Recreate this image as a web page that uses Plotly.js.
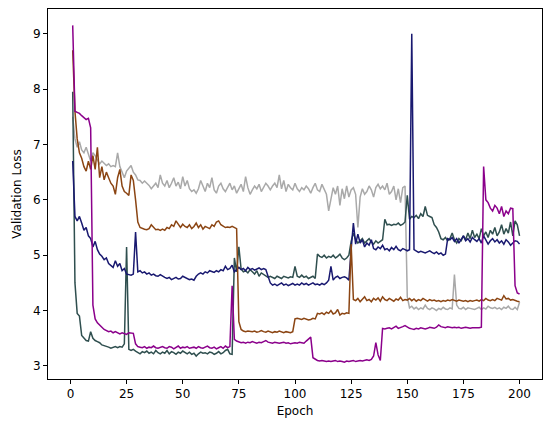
<!DOCTYPE html>
<html>
<head>
<meta charset="utf-8">
<script src="https://cdn.plot.ly/plotly-3.0.1.min.js"></script>
<style>
  html, body { margin: 0; padding: 0; background: #fff; }
  #myDiv { width: 554px; height: 432px; }
</style>
</head>
<body>
<div id="myDiv"></div>
<script>
// epochs 1..200
var epochs = [];
for (var e = 1; e <= 200; e++) epochs.push(e);

var loss_purple = [
  9.15, 7.60, 7.58, 7.56, 7.52, 7.48, 7.45, 7.47, 7.30, 4.10,
  3.85, 3.78, 3.73, 3.70, 3.66, 3.64, 3.62, 3.63, 3.60, 3.62,
  3.60, 3.58, 3.60, 3.58, 3.57, 3.60, 3.60, 3.59, 3.40, 3.35,
  3.34, 3.33, 3.35, 3.32, 3.34, 3.33, 3.36, 3.33, 3.32, 3.34,
  3.35, 3.33, 3.32, 3.35, 3.34, 3.31, 3.33, 3.36, 3.32, 3.34,
  3.33, 3.35, 3.32, 3.33, 3.34, 3.32, 3.35, 3.33, 3.32, 3.34,
  3.36, 3.33, 3.32, 3.34, 3.31, 3.33, 3.35, 3.32, 3.36, 3.33,
  3.35, 4.45, 3.48, 3.45, 3.44, 3.42, 3.43, 3.41, 3.43, 3.42,
  3.44, 3.42, 3.41, 3.43, 3.42, 3.44, 3.46, 3.43, 3.42, 3.41,
  3.43, 3.42, 3.41, 3.42, 3.43, 3.41, 3.42, 3.40, 3.41, 3.42,
  3.41, 3.43, 3.42, 3.41, 3.45, 3.48, 3.52, 3.15, 3.12, 3.10,
  3.09, 3.10, 3.09, 3.08, 3.09, 3.08, 3.09, 3.10, 3.08, 3.09,
  3.08, 3.07, 3.09, 3.08, 3.09, 3.10, 3.08, 3.09, 3.10, 3.09,
  3.10, 3.11, 3.10, 3.12, 3.18, 3.42, 3.20, 3.10, 3.68, 3.67,
  3.68, 3.69, 3.67, 3.70, 3.72, 3.68, 3.69, 3.71, 3.73, 3.70,
  3.68, 3.67, 3.66, 3.68, 3.67, 3.69, 3.68, 3.67, 3.68, 3.70,
  3.69, 3.68, 3.70, 3.74, 3.71, 3.70, 3.69, 3.71, 3.70, 3.69,
  3.70, 3.69, 3.70, 3.68, 3.69, 3.70, 3.69, 3.68, 3.69, 3.69,
  3.68, 3.69, 3.70, 6.60, 6.00, 5.95, 5.85, 5.80, 5.90, 5.85,
  5.75, 5.88, 5.70, 5.80, 5.75, 5.85, 5.84, 4.45, 4.32, 4.30
];

var loss_brown = [
  8.70, 7.60, 7.10, 6.85, 6.75, 6.60, 6.52, 6.70, 6.55, 6.80,
  6.55, 6.95, 6.40, 6.60, 6.36, 6.50, 6.40, 6.30, 6.25, 6.10,
  6.40, 6.55, 6.25, 6.15, 6.12, 6.08, 6.45, 6.35, 6.00, 5.60,
  5.50, 5.48, 5.47, 5.46, 5.48, 5.55, 5.50, 5.46, 5.47, 5.45,
  5.47, 5.45, 5.50, 5.48, 5.55, 5.52, 5.62, 5.55, 5.50, 5.56,
  5.52, 5.50, 5.55, 5.48, 5.52, 5.58, 5.50, 5.55, 5.47, 5.52,
  5.50, 5.48, 5.55, 5.52, 5.60, 5.62, 5.55, 5.52, 5.50, 5.51,
  5.50, 5.52, 5.50, 5.48, 3.80, 3.66, 3.63, 3.62, 3.63, 3.62,
  3.62, 3.63, 3.61, 3.62, 3.64, 3.62, 3.61, 3.63, 3.62, 3.60,
  3.62, 3.61, 3.63, 3.62, 3.60, 3.62, 3.61, 3.60, 3.62, 3.85,
  3.86, 3.85, 3.84, 3.86, 3.85, 3.83, 3.84, 3.86, 3.85, 3.95,
  3.94, 3.96, 3.93, 3.97, 3.95, 4.00, 3.94, 3.96, 4.02, 3.92,
  3.95, 3.94, 3.96, 3.95, 5.20, 4.20, 4.18, 4.22, 4.16, 4.20,
  4.25, 4.18, 4.20, 4.16, 4.22, 4.19, 4.23, 4.17, 4.25, 4.20,
  4.18, 4.22, 4.20, 4.17, 4.21, 4.19, 4.24, 4.18, 4.20, 4.19,
  4.22, 4.18, 4.21, 4.17, 4.20, 4.18, 4.22, 4.19, 4.17, 4.20,
  4.18, 4.19, 4.17, 4.18, 4.16, 4.18, 4.17, 4.19, 4.18, 4.20,
  4.18, 4.17, 4.19, 4.18, 4.17, 4.18, 4.16, 4.18, 4.17, 4.18,
  4.19, 4.17, 4.20, 4.18, 4.22, 4.19, 4.18, 4.20, 4.18, 4.22,
  4.20, 4.19, 4.27, 4.21, 4.22, 4.19, 4.20, 4.18, 4.17, 4.16
];

var loss_navy = [
  6.70, 5.70, 5.62, 5.70, 5.58, 5.45, 5.50, 5.35, 5.30, 5.15,
  5.25, 5.10, 5.02, 4.98, 4.92, 4.95, 4.85, 4.82, 4.78, 4.90,
  4.80, 4.85, 4.72, 4.76, 4.66, 4.65, 4.64, 4.66, 5.42, 4.70,
  4.72, 4.68, 4.70, 4.66, 4.68, 4.64, 4.66, 4.63, 4.62, 4.65,
  4.62, 4.60, 4.58, 4.60, 4.56, 4.58, 4.60, 4.57, 4.58, 4.62,
  4.60, 4.58, 4.56, 4.57, 4.55, 4.62, 4.66, 4.68, 4.66, 4.70,
  4.68, 4.72, 4.70, 4.69, 4.72, 4.70, 4.74, 4.72, 4.80, 4.74,
  4.76, 4.82, 4.70, 4.75, 4.78, 4.74, 4.76, 4.72, 4.78, 4.74,
  4.76, 4.73, 4.75, 4.77, 4.74, 4.76, 4.74, 4.60, 4.50, 4.46,
  4.48, 4.45, 4.47, 4.50, 4.46, 4.48, 4.45, 4.47, 4.49, 4.46,
  4.48, 4.46, 4.50, 4.47, 4.49, 4.46, 4.48, 4.50, 4.47, 4.48,
  4.46, 4.49, 4.47, 4.50, 4.55, 4.80, 4.55, 4.60, 4.62, 4.58,
  4.60, 4.61, 4.59, 4.55, 5.10, 5.58, 5.20, 5.38, 5.22, 5.28,
  5.15, 5.22, 5.18, 5.28, 5.12, 5.10, 5.15, 5.12, 5.18, 5.10,
  5.12, 5.08, 5.14, 5.10, 5.16, 5.10, 5.08, 5.12, 5.10, 5.08,
  5.10, 9.00, 5.10, 5.08, 5.05, 5.07, 5.05, 5.04, 5.06, 5.08,
  5.05, 5.03, 5.06, 5.02, 5.04, 5.00, 5.02, 5.30, 5.28, 5.32,
  5.25, 5.30, 5.22, 5.28, 5.35, 5.26, 5.30, 5.24, 5.32, 5.28,
  5.25, 5.30, 5.22, 5.35, 5.28, 5.20, 5.26, 5.30, 5.24, 5.28,
  5.22, 5.26, 5.20, 5.28, 5.24, 5.18, 5.22, 5.26, 5.25, 5.20
];

var loss_slate = [
  7.95, 4.50, 3.95, 3.90, 3.55, 3.50, 3.46, 3.45, 3.62, 3.50,
  3.46, 3.44, 3.42, 3.38, 3.37, 3.36, 3.34, 3.32, 3.33, 3.35,
  3.33, 3.35, 3.34, 3.40, 5.15, 3.30, 3.28, 3.30, 3.27, 3.25,
  3.22, 3.26, 3.24, 3.27, 3.23, 3.25, 3.22, 3.28, 3.24, 3.22,
  3.25, 3.23, 3.28, 3.22, 3.26, 3.24, 3.21, 3.25, 3.23, 3.27,
  3.24, 3.22, 3.25, 3.21, 3.23, 3.18, 3.22, 3.25, 3.23, 3.24,
  3.22, 3.25, 3.24, 3.21, 3.23, 3.26, 3.22, 3.24, 3.28, 3.30,
  3.22, 3.21, 4.95, 4.70, 5.15, 4.75, 4.70, 4.72, 4.68, 4.74,
  4.70, 4.66, 4.72, 4.62, 4.68, 4.65, 4.62, 4.60, 4.62, 4.60,
  4.58, 4.62, 4.60, 4.58, 4.62, 4.60, 4.59, 4.61, 4.60, 4.80,
  4.62, 4.60, 4.64, 4.60, 4.62, 4.58, 4.60, 4.62, 4.58, 5.02,
  4.98, 4.96, 5.00, 4.95, 4.98, 4.96, 5.00, 4.95, 4.98, 5.02,
  4.95, 4.92, 4.95, 5.00, 5.25, 5.40, 5.28, 5.22, 5.26, 5.30,
  5.22, 5.26, 5.30, 5.24, 5.20, 5.26, 5.22, 5.25, 5.28, 5.65,
  5.55, 5.56, 5.54, 5.56, 5.55, 5.58, 5.54, 5.56, 5.60, 6.08,
  5.65, 5.70, 5.68, 5.72, 5.66, 5.75, 5.70, 5.88, 5.72, 5.70,
  5.68, 5.55, 5.50, 5.42, 5.30, 5.28, 5.32, 5.26, 5.30, 5.40,
  5.28, 5.22, 5.30, 5.26, 5.35, 5.28, 5.40, 5.30, 5.45, 5.32,
  5.38, 5.30, 5.48, 5.35, 5.42, 5.32, 5.45, 5.38, 5.50, 5.35,
  5.42, 5.55, 5.38, 5.48, 5.40, 5.60, 5.35, 5.62, 5.55, 5.35
];

var loss_gray = [
  7.50, 7.10, 6.95, 7.05, 6.90, 6.85, 6.95, 6.80, 6.70, 6.85,
  6.80, 6.72, 6.65, 6.70, 6.66, 6.62, 6.65, 6.60, 6.62, 6.60,
  6.85, 6.60, 6.50, 6.40, 6.52, 6.58, 6.62, 6.50, 6.45, 6.36,
  6.35, 6.30, 6.34, 6.30, 6.26, 6.20, 6.25, 6.30, 6.22, 6.45,
  6.30, 6.25, 6.35, 6.22, 6.30, 6.40, 6.25, 6.32, 6.20, 6.42,
  6.25, 6.35, 6.20, 6.15, 6.18, 6.12, 6.20, 6.35, 6.25, 6.15,
  6.30, 6.22, 6.40, 6.18, 6.12, 6.25, 6.30, 6.20, 6.15, 6.22,
  6.30, 6.18, 6.25, 6.12, 6.20, 6.28, 6.15, 6.42, 6.22, 6.10,
  6.18, 6.25, 6.20, 6.28, 6.15, 6.22, 6.30, 6.25, 6.18, 6.25,
  6.30, 6.22, 6.45, 6.20, 6.35, 6.15, 6.28, 6.22, 6.18, 6.30,
  6.20, 6.15, 6.22, 6.18, 6.25, 6.20, 6.12, 6.22, 6.30, 6.18,
  6.15, 6.28, 6.20, 6.10, 5.80, 6.05, 6.22, 6.10, 6.25, 5.90,
  6.20, 6.02, 6.25, 6.05, 6.18, 6.22, 6.10, 5.50, 6.05, 6.20,
  6.10, 6.15, 6.25, 6.18, 6.05, 6.22, 6.28, 6.20, 6.25, 6.18,
  6.30, 6.10, 6.15, 6.25, 6.00, 6.20, 5.95, 6.22, 6.25, 4.25,
  4.05, 4.08, 4.03, 4.06, 4.02, 4.05, 4.03, 4.10, 4.04, 4.02,
  4.05, 4.03, 4.00, 4.04, 4.02, 4.06, 4.03, 4.02, 4.05, 4.03,
  4.65, 4.10, 4.04, 4.03, 4.06, 4.02, 4.05, 4.04, 4.03, 4.02,
  4.04, 4.06, 4.02, 4.05, 4.03, 4.08, 4.05, 4.04, 4.06, 4.03,
  4.05, 4.02, 4.06, 4.04, 4.08, 4.03, 4.02, 4.06, 4.02, 4.15
];

function makeTrace(y, color) {
    return {
        x: epochs,
        y: y,
        mode: 'lines',
        line: { color: color, width: 1.5 },
        hoverinfo: 'skip'
    };
}

var data = [
    makeTrace(loss_gray, '#a9a9a9'),
    makeTrace(loss_slate, '#2f4f4f'),
    makeTrace(loss_navy, '#191970'),
    makeTrace(loss_brown, '#8b4513'),
    makeTrace(loss_purple, '#8b008b')
];

var axisFont = { family: 'DejaVu Sans', size: 12, color: 'black' };

var layout = {
    width: 554,
    height: 432,
    margin: { l: 48, r: 12, t: 9, b: 53 },
    paper_bgcolor: 'white',
    plot_bgcolor: 'white',
    showlegend: false,
    font: axisFont,
    xaxis: {
        title: { text: 'Epoch', font: axisFont, standoff: 6 },
        range: [-10, 210],
        tick0: 0,
        dtick: 25,
        ticks: 'outside',
        ticklen: 4,
        tickcolor: 'black',
        showgrid: false,
        zeroline: false,
        showline: true,
        linecolor: 'black',
        linewidth: 1,
        mirror: true,
        tickfont: axisFont
    },
    yaxis: {
        title: { text: 'Validation Loss', font: axisFont, standoff: 8 },
        range: [2.765, 9.446],
        tick0: 0,
        dtick: 1,
        ticks: 'outside',
        ticklen: 4,
        tickcolor: 'black',
        showgrid: false,
        zeroline: false,
        showline: true,
        linecolor: 'black',
        linewidth: 1,
        mirror: true,
        tickfont: axisFont
    }
};

Plotly.newPlot('myDiv', data, layout, { staticPlot: true });
</script>
</body>
</html>
